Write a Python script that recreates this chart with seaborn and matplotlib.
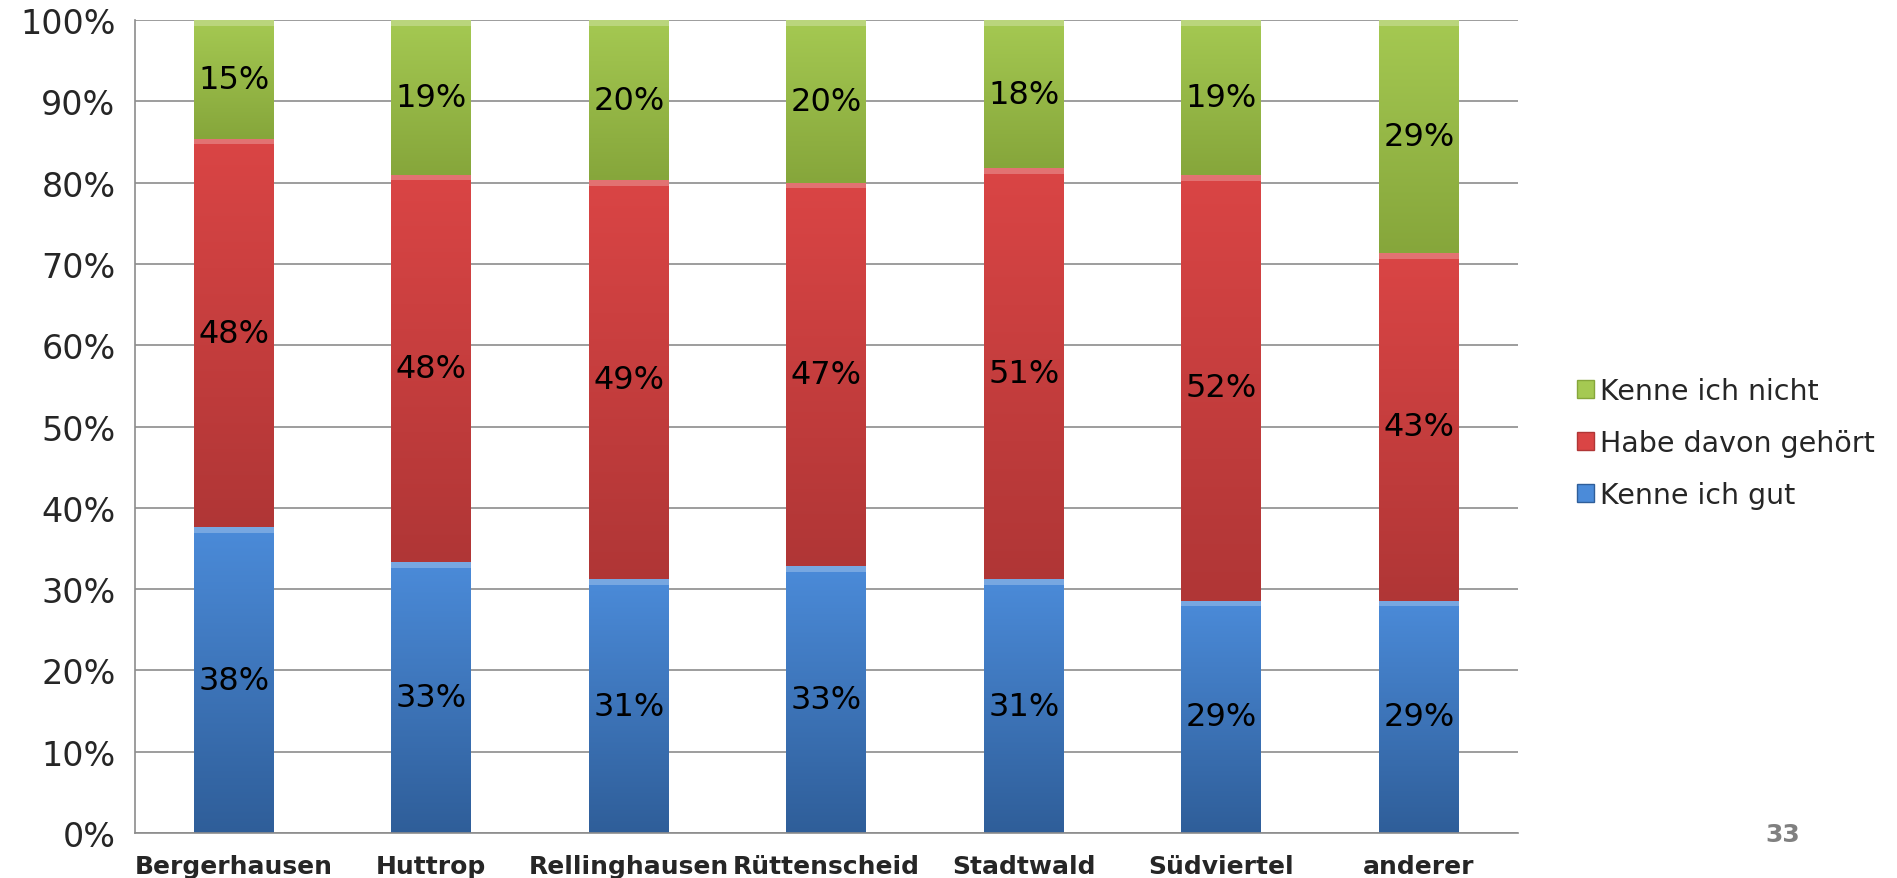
import numpy as np
import pandas as pd
import matplotlib
matplotlib.use("Agg")
import matplotlib.pyplot as plt
import seaborn as sns
from matplotlib.patches import Patch
from matplotlib.colors import LinearSegmentedColormap

# data (shares in %)
districts = ["Bergerhausen", "Huttrop", "Rellinghausen", "Rüttenscheid",
             "Stadtwald", "Südviertel", "anderer"]
kenne_gut = [37.6, 33.3, 31.2, 32.8, 31.2, 28.6, 28.6]
gehoert = [47.8, 47.7, 49.1, 47.2, 50.6, 52.3, 42.7]
kenne_nicht = [14.6, 19.0, 19.7, 20.0, 18.2, 19.1, 28.7]
series_names = ["Kenne ich gut", "Habe davon gehört", "Kenne ich nicht"]

df = pd.DataFrame({"district": districts,
                   "Kenne ich gut": kenne_gut,
                   "Habe davon gehört": gehoert,
                   "Kenne ich nicht": kenne_nicht})

# colours: (top of segment, bottom of segment)
shades = {"Kenne ich gut": ("#4b8bd9", "#2f5e99"),
          "Habe davon gehört": ("#da4545", "#b03636"),
          "Kenne ich nicht": ("#a5c952", "#86a63b")}

sns.set_theme(style="white")
plt.rcParams["font.family"] = ["DejaVu Sans"]

fig = plt.figure(figsize=(18.97, 8.79), dpi=100)
ax = fig.add_axes([0.0712, 0.0512, 0.7288, 0.9248])

bottom = np.zeros(len(districts))
for name in series_names:
    top_c, bot_c = shades[name]
    sns.barplot(data=df, x="district", y=name, bottom=bottom, color=top_c,
                saturation=1, width=0.405, ax=ax, zorder=2, linewidth=0)
    bottom = bottom + df[name].values

# gradient fill + labels for every segment
grad = np.linspace(0, 1, 256).reshape(-1, 1)
for p, name_idx in zip(ax.patches, np.repeat(range(3), len(districts))):
    name = series_names[name_idx]
    top_c, bot_c = shades[name]
    cmap = LinearSegmentedColormap.from_list("g", [bot_c, top_c])
    x0, y0 = p.get_x(), p.get_y()
    w, h = p.get_width(), p.get_height()
    im = ax.imshow(grad, cmap=cmap, origin="lower", aspect="auto",
                   extent=[x0, x0 + w, y0, y0 + h], zorder=2.5)
    im.set_clip_path(p)
    # light bevel at top edge
    ax.fill_between([x0, x0 + w], y0 + h - 0.7, y0 + h, color="white",
                    alpha=0.25, zorder=2.6, linewidth=0)
    ax.text(x0 + w / 2, y0 + h / 2, f"{round(h):.0f}%", ha="center",
            va="center", fontsize=23, color="black", zorder=3)

ax.set_xlim(-0.5, len(districts) - 0.5)
ax.set_ylim(0, 100)
ax.set_yticks(np.arange(0, 101, 10))
ax.set_yticklabels([f"{v}%" for v in range(0, 101, 10)], fontsize=24)
ax.yaxis.grid(True, color="#8c8c8c", linewidth=1.2, zorder=0)
ax.set_axisbelow(True)
ax.set_xlabel("")
ax.set_ylabel("")

ax.set_xticks(np.arange(len(districts)))
ax.set_xticklabels(districts, fontsize=18, fontweight="bold",
                   family=["Liberation Sans Narrow", "DejaVu Sans"])
ax.tick_params(axis="x", length=0, pad=15)
ax.set_xticks(np.arange(-0.5, len(districts)), minor=True)
ax.tick_params(axis="x", which="minor", length=9, color="#8c8c8c", width=1.2)
ax.tick_params(axis="y", length=9, color="#8c8c8c", width=1.2, pad=5)

for s in ["top", "right"]:
    ax.spines[s].set_visible(False)
for s in ["left", "bottom"]:
    ax.spines[s].set_color("#8c8c8c")
    ax.spines[s].set_linewidth(1.2)

handles = [Patch(facecolor=shades[n][0], edgecolor=shades[n][1], label=n)
           for n in reversed(series_names)]
leg = fig.legend(handles=handles, loc="center left",
                 bbox_to_anchor=(0.818, 0.495), frameon=False, fontsize=20.5,
                 handlelength=0.6, handleheight=0.6, handletextpad=0.2,
                 labelspacing=0.85)

fig.text(0.949, 0.05, "33", fontsize=18, fontweight="bold", color="#808080",
         ha="right", va="center",
         family=["Liberation Sans Narrow", "DejaVu Sans"])

fig.savefig("out.png", dpi=100)
